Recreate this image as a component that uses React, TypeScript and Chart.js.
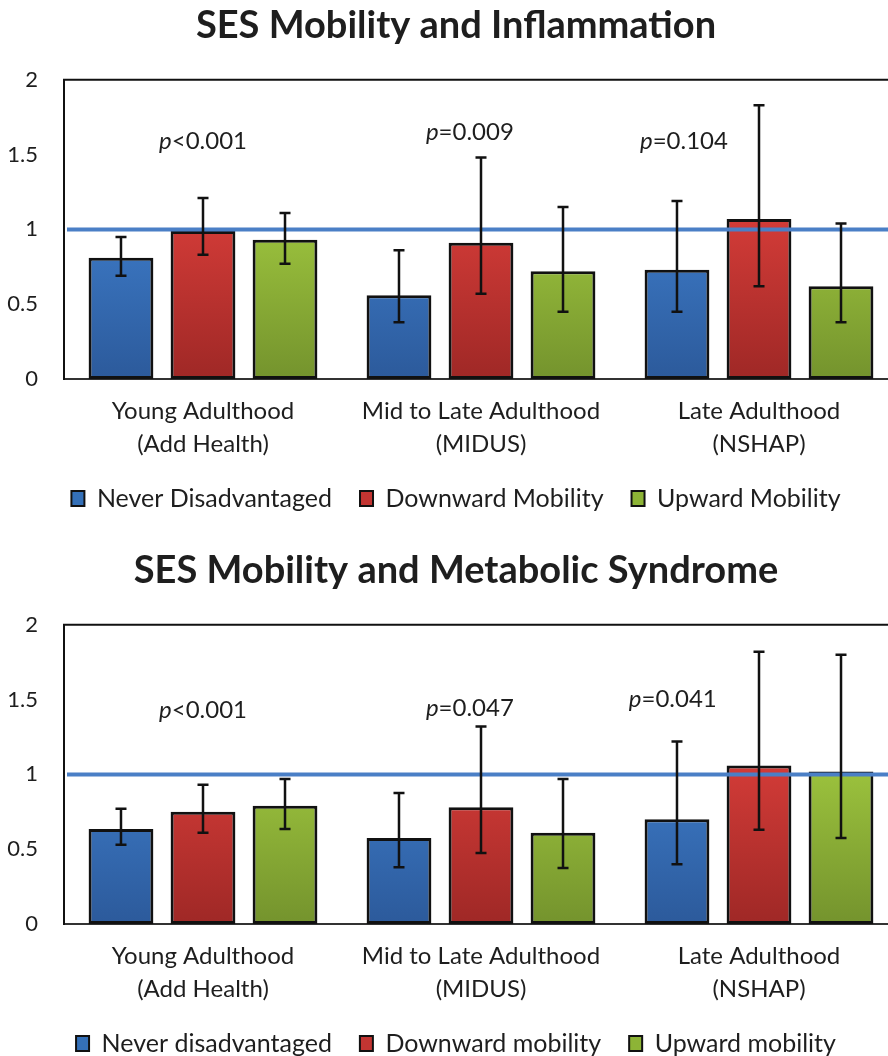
import React, { useEffect, useRef } from "react";
import { Chart, registerables } from "chart.js";

Chart.register(...registerables);

// ---------- data ----------
const CATEGORIES = [
  ["Young Adulthood", "(Add Health)"],
  ["Mid to Late Adulthood", "(MIDUS)"],
  ["Late Adulthood", "(NSHAP)"],
];
const Y_MIN = 0;
const Y_MAX = 2;
const Y_STEP = 0.5;
const REFERENCE_VALUE = 1;

// Chart 1: Inflammation
const INFL_TITLE = "SES Mobility and Inflammation";
const INFL_SERIES = ["Never Disadvantaged", "Downward Mobility", "Upward Mobility"];
const INFL_NEVER = [0.81, 0.56, 0.73];
const INFL_DOWN = [0.99, 0.91, 1.07];
const INFL_UP = [0.93, 0.72, 0.62];
const INFL_NEVER_LO = [0.69, 0.38, 0.45];
const INFL_NEVER_HI = [0.95, 0.86, 1.19];
const INFL_DOWN_LO = [0.83, 0.57, 0.62];
const INFL_DOWN_HI = [1.21, 1.48, 1.83];
const INFL_UP_LO = [0.77, 0.45, 0.38];
const INFL_UP_HI = [1.11, 1.15, 1.04];
const INFL_P = ["<0.001", "=0.009", "=0.104"];

// Chart 2: Metabolic syndrome
const METS_TITLE = "SES Mobility and Metabolic Syndrome";
const METS_SERIES = ["Never disadvantaged", "Downward mobility", "Upward mobility"];
const METS_NEVER = [0.635, 0.575, 0.7];
const METS_DOWN = [0.75, 0.78, 1.06];
const METS_UP = [0.79, 0.61, 1.02];
const METS_NEVER_LO = [0.53, 0.38, 0.4];
const METS_NEVER_HI = [0.77, 0.875, 1.22];
const METS_DOWN_LO = [0.61, 0.475, 0.63];
const METS_DOWN_HI = [0.93, 1.32, 1.82];
const METS_UP_LO = [0.635, 0.375, 0.575];
const METS_UP_HI = [0.97, 0.97, 1.8];
const METS_P = ["<0.001", "=0.047", "=0.041"];

// ---------- layout / style (not data) ----------
const INFL_P_POS = [
  { x: 0, y: 1.59 },
  { x: 0.96, y: 1.65 },
  { x: 1.73, y: 1.59 },
];
const METS_P_POS = [
  { x: 0, y: 1.43 },
  { x: 0.96, y: 1.44 },
  { x: 1.69, y: 1.5 },
];

const FONT = "Lato";
const TEXT_COLOR = "#1e1e1e";
const GRADS = [
  ["#3d7bc8", "#2c5a9b"],
  ["#d43c38", "#9f2826"],
  ["#9ec53e", "#74932d"],
];
const LEGEND_FILL = ["#3470b8", "#c33532", "#8db436"];
const REF_COLOR = "#4a7fc6";

const CANVAS_W = 912;
const CANVAS_H = 521;

function makeGradient(idx: number) {
  return (ctx: any) => {
    const chart = ctx.chart;
    const y = chart.scales && chart.scales.y;
    if (!chart.chartArea || !y) return LEGEND_FILL[idx];
    const g = chart.ctx.createLinearGradient(0, y.getPixelForValue(1.1), 0, y.getPixelForValue(0));
    g.addColorStop(0, GRADS[idx][0]);
    g.addColorStop(1, GRADS[idx][1]);
    return g;
  };
}

const overlayPlugin = {
  id: "overlay",
  afterDatasetsDraw(chart: any, _args: any, opts: any) {
    const ctx = chart.ctx;
    const { left, right, top, bottom } = chart.chartArea;
    const y = chart.scales.y;
    const x = chart.scales.x;
    ctx.save();
    // plot border (top + left)
    ctx.strokeStyle = "#111";
    ctx.lineWidth = 2;
    ctx.beginPath();
    ctx.moveTo(left, bottom);
    ctx.lineTo(left, top);
    ctx.lineTo(right, top);
    ctx.stroke();
    // reference line
    const ry = y.getPixelForValue(REFERENCE_VALUE);
    ctx.strokeStyle = REF_COLOR;
    ctx.lineWidth = 4;
    ctx.beginPath();
    ctx.moveTo(left + 3, ry);
    ctx.lineTo(right, ry);
    ctx.stroke();
    // error bars
    ctx.strokeStyle = "#111";
    ctx.lineWidth = 2.5;
    opts.errors.forEach((err: any, di: number) => {
      const meta = chart.getDatasetMeta(di);
      meta.data.forEach((bar: any, i: number) => {
        const cx = bar.x;
        const yl = y.getPixelForValue(err.lo[i]);
        const yh = y.getPixelForValue(err.hi[i]);
        ctx.beginPath();
        ctx.moveTo(cx, yl);
        ctx.lineTo(cx, yh);
        ctx.moveTo(cx - 5.5, yl);
        ctx.lineTo(cx + 5.5, yl);
        ctx.moveTo(cx - 5.5, yh);
        ctx.lineTo(cx + 5.5, yh);
        ctx.stroke();
      });
    });
    // p-value labels
    ctx.fillStyle = TEXT_COLOR;
    ctx.textBaseline = "middle";
    ctx.textAlign = "left";
    const size = opts.pSize;
    opts.pTexts.forEach((t: string, i: number) => {
      const pos = opts.pPos[i];
      const px = x.getPixelForValue(pos.x);
      const py = y.getPixelForValue(pos.y);
      ctx.font = `italic ${size}px ${FONT}`;
      const w1 = ctx.measureText("p").width;
      ctx.font = `${size}px ${FONT}`;
      const w2 = ctx.measureText(t).width;
      const sx = px - (w1 + w2) / 2;
      ctx.font = `italic ${size}px ${FONT}`;
      ctx.fillText("p", sx, py);
      ctx.font = `${size}px ${FONT}`;
      ctx.fillText(t, sx + w1, py);
    });
    ctx.restore();
  },
};

function buildConfig(
  title: string,
  series: string[],
  values: number[][],
  errors: { lo: number[]; hi: number[] }[],
  pTexts: string[],
  pPos: { x: number; y: number }[]
): any {
  return {
    type: "bar",
    data: {
      labels: CATEGORIES,
      datasets: series.map((name, i) => ({
        label: name,
        data: values[i],
        backgroundColor: makeGradient(i),
        borderColor: "#111",
        borderWidth: 3,
        borderSkipped: false,
        categoryPercentage: 0.885,
        barPercentage: 0.79,
        yAxisID: "y",
      })),
    },
    options: {
      responsive: false,
      animation: false,
      devicePixelRatio: 1,
      layout: { padding: 0 },
      scales: {
        x: {
          grid: { display: false, drawTicks: false },
          border: { display: true, color: "#333", width: 2 },
          ticks: {
            color: TEXT_COLOR,
            font: { family: FONT, size: 24, lineHeight: 1.375 },
            padding: 16,
            maxRotation: 0,
            autoSkip: false,
          },
          afterFit: (s: any) => {
            s.height = 79;
          },
        },
        y: {
          position: "left",
          min: Y_MIN,
          max: Y_MAX,
          grid: { display: false, drawTicks: false },
          border: { display: true, color: "#111", width: 2 },
          ticks: {
            stepSize: Y_STEP,
            color: TEXT_COLOR,
            font: { family: FONT, size: 22 },
            padding: 26,
            callback: (v: any) => String(v),
          },
          afterFit: (s: any) => {
            s.width = 64;
          },
        },
        yRightSpacer: {
          type: "linear",
          position: "right",
          display: true,
          min: Y_MIN,
          max: Y_MAX,
          grid: { display: false, drawTicks: false },
          border: { display: false },
          ticks: { display: false },
          afterFit: (s: any) => {
            s.width = 14;
          },
        },
      },
      plugins: {
        title: {
          display: true,
          text: title,
          color: TEXT_COLOR,
          font: { family: FONT, size: 38, weight: "bold", lineHeight: 1.1 },
          padding: { top: 5, bottom: 33 },
        },
        legend: {
          position: "bottom",
          labels: {
            color: TEXT_COLOR,
            font: { family: FONT, size: 25 },
            boxWidth: 13,
            boxHeight: 15,
            padding: 28,
            generateLabels: (chart: any) => {
              const items = (Chart as any).defaults.plugins.legend.labels.generateLabels(chart);
              items.forEach((it: any, i: number) => {
                it.fillStyle = LEGEND_FILL[i];
                it.strokeStyle = "#111";
                it.lineWidth = 2;
              });
              return items;
            },
          },
        },
        tooltip: { enabled: false },
        overlay: { errors, pTexts, pPos, pSize: 24 },
      },
    },
    plugins: [overlayPlugin],
  };
}

function BarChart(props: { config: any; top: number }) {
  const ref = useRef<HTMLCanvasElement | null>(null);
  useEffect(() => {
    if (!ref.current) return;
    const chart = new Chart(ref.current, props.config);
    return () => chart.destroy();
  }, []);
  return (
    <canvas
      ref={ref}
      width={CANVAS_W}
      height={CANVAS_H}
      style={{ position: "absolute", left: 0, top: props.top, width: CANVAS_W, height: CANVAS_H }}
    />
  );
}

export default function App() {
  const cfg1 = buildConfig(
    INFL_TITLE,
    INFL_SERIES,
    [INFL_NEVER, INFL_DOWN, INFL_UP],
    [
      { lo: INFL_NEVER_LO, hi: INFL_NEVER_HI },
      { lo: INFL_DOWN_LO, hi: INFL_DOWN_HI },
      { lo: INFL_UP_LO, hi: INFL_UP_HI },
    ],
    INFL_P,
    INFL_P_POS
  );
  const cfg2 = buildConfig(
    METS_TITLE,
    METS_SERIES,
    [METS_NEVER, METS_DOWN, METS_UP],
    [
      { lo: METS_NEVER_LO, hi: METS_NEVER_HI },
      { lo: METS_DOWN_LO, hi: METS_DOWN_HI },
      { lo: METS_UP_LO, hi: METS_UP_HI },
    ],
    METS_P,
    METS_P_POS
  );
  return (
    <div
      style={{
        position: "fixed",
        left: 0,
        top: 0,
        width: 888,
        height: 1056,
        overflow: "hidden",
        background: "#fff",
      }}
    >
      <BarChart config={cfg1} top={0} />
      <BarChart config={cfg2} top={545} />
    </div>
  );
}
